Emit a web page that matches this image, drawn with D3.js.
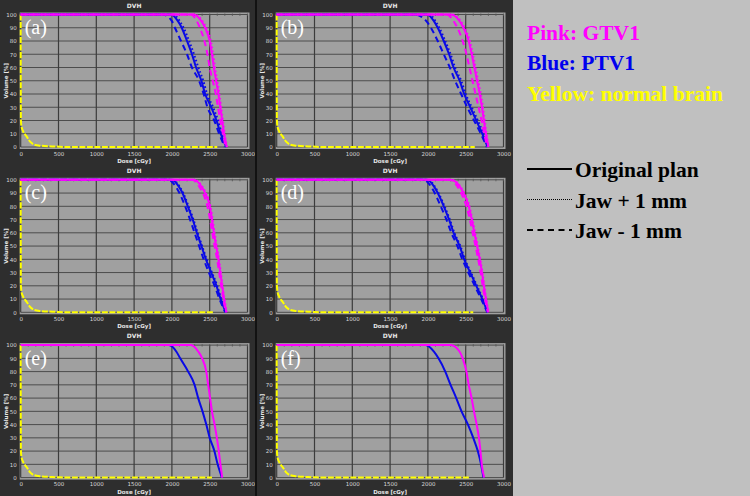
<!DOCTYPE html>
<html>
<head>
<meta charset="utf-8">
<script src="https://cdn.jsdelivr.net/npm/d3@7"></script>
<style>
  body { margin: 0; background: #c0c0c0; }
  svg { display: block; }
</style>
</head>
<body>
<svg id="chart" width="750" height="496"></svg>
<script>
// volume levels (%) shared by the target curves; each curve lists the dose (cGy) read at these levels
const volLevels = [100, 100, 95, 90, 80, 70, 60, 50, 40, 30, 20, 10, 0];

// (a)
const gtvA      = [0, 2290, 2390, 2440, 2500, 2530, 2555, 2585, 2615, 2640, 2665, 2690, 2725];
const gtvAPlus  = [0, 2300, 2405, 2455, 2515, 2545, 2570, 2600, 2628, 2652, 2675, 2698, 2730];
const gtvAMinus = [0, 2250, 2330, 2370, 2430, 2470, 2500, 2540, 2580, 2610, 2640, 2675, 2710];
const ptvA      = [0, 1990, 2080, 2130, 2200, 2265, 2320, 2390, 2440, 2520, 2590, 2645, 2720];
const ptvAPlus  = [0, 2010, 2105, 2155, 2228, 2292, 2350, 2415, 2465, 2545, 2610, 2660, 2725];
const ptvAMinus = [0, 1880, 2000, 2040, 2120, 2200, 2265, 2360, 2420, 2470, 2560, 2625, 2700];
// (b)
const gtvB      = [0, 2300, 2420, 2470, 2540, 2580, 2615, 2650, 2685, 2715, 2740, 2767, 2800];
const gtvBPlus  = [0, 2315, 2435, 2485, 2555, 2595, 2630, 2665, 2700, 2728, 2752, 2775, 2805];
const gtvBMinus = [0, 2250, 2340, 2390, 2460, 2510, 2550, 2590, 2630, 2670, 2710, 2745, 2785];
const ptvB      = [0, 1990, 2080, 2130, 2210, 2280, 2340, 2420, 2480, 2560, 2640, 2720, 2790];
const ptvBPlus  = [0, 2010, 2100, 2150, 2230, 2300, 2360, 2440, 2500, 2580, 2660, 2735, 2795];
const ptvBMinus = [0, 1820, 1980, 2040, 2130, 2210, 2290, 2360, 2440, 2520, 2610, 2700, 2780];
// (c)
const gtvC      = [0, 2290, 2390, 2440, 2500, 2530, 2555, 2585, 2615, 2640, 2665, 2690, 2720];
const gtvCPlus  = [0, 2300, 2400, 2450, 2510, 2540, 2565, 2595, 2622, 2648, 2670, 2695, 2725];
const gtvCMinus = [0, 2270, 2360, 2410, 2470, 2505, 2535, 2565, 2598, 2625, 2652, 2680, 2712];
const ptvC      = [0, 2000, 2090, 2140, 2210, 2275, 2330, 2390, 2450, 2520, 2590, 2645, 2715];
const ptvCPlus  = [0, 2010, 2100, 2150, 2220, 2285, 2340, 2400, 2460, 2530, 2600, 2652, 2720];
const ptvCMinus = [0, 1950, 2050, 2100, 2175, 2240, 2300, 2360, 2420, 2490, 2565, 2630, 2705];
// (d)
const gtvD      = [0, 2300, 2420, 2470, 2540, 2580, 2615, 2650, 2685, 2715, 2740, 2767, 2800];
const gtvDPlus  = [0, 2310, 2430, 2480, 2550, 2590, 2625, 2660, 2693, 2722, 2747, 2772, 2803];
const gtvDMinus = [0, 2280, 2390, 2440, 2510, 2555, 2592, 2630, 2665, 2698, 2725, 2755, 2792];
const ptvD      = [0, 1990, 2080, 2130, 2210, 2280, 2340, 2420, 2480, 2560, 2640, 2720, 2790];
const ptvDPlus  = [0, 2000, 2090, 2140, 2220, 2290, 2350, 2430, 2490, 2570, 2650, 2728, 2793];
const ptvDMinus = [0, 1940, 2040, 2090, 2170, 2245, 2310, 2390, 2455, 2535, 2620, 2705, 2785];
// (e)
const gtvE      = [0, 2250, 2350, 2400, 2455, 2480, 2505, 2530, 2565, 2595, 2620, 2642, 2665];
const ptvE      = [0, 1960, 2060, 2110, 2215, 2300, 2348, 2405, 2455, 2500, 2562, 2605, 2662];
// (f)
const gtvF      = [0, 2300, 2420, 2460, 2510, 2540, 2578, 2610, 2645, 2675, 2695, 2712, 2744];
const ptvF      = [0, 1970, 2080, 2140, 2230, 2300, 2375, 2445, 2530, 2600, 2660, 2703, 2735];

// normal brain
const brainVol  = [100, 20, 15.5, 11.5, 7.8, 4, 2, 1, 0.3, 0, 0];
const brainDose = [0, 3, 10, 35, 80, 125, 170, 255, 480, 600];
const brainEnd  = [2600, 2620, 2560, 2600, 2530, 2560];

const panelLabels = ["(a)", "(b)", "(c)", "(d)", "(e)", "(f)"];
const doseTicks = [0, 500, 1000, 1500, 2000, 2500, 3000];
const volTicks = [0, 10, 20, 30, 40, 50, 60, 70, 80, 90, 100];

const legendTargets = [
  {text: "Pink: GTV1", color: "#ff00ff"},
  {text: "Blue: PTV1", color: "#0000ee"},
  {text: "Yellow: normal brain", color: "#ffff00"}
];
const legendPlans = ["Original plan", "Jaw + 1 mm", "Jaw - 1 mm"];

const PINK = "#ff00ff", BLUE = "#0a0ae6", YELLOW = "#ffff00";
const styles = {solid: null, dotted: "1.6,2.4", dashed: "6,4"};

const panels = [
  {gtv: [gtvA, gtvAPlus, gtvAMinus], ptv: [ptvA, ptvAPlus, ptvAMinus]},
  {gtv: [gtvB, gtvBPlus, gtvBMinus], ptv: [ptvB, ptvBPlus, ptvBMinus]},
  {gtv: [gtvC, gtvCPlus, gtvCMinus], ptv: [ptvC, ptvCPlus, ptvCMinus]},
  {gtv: [gtvD, gtvDPlus, gtvDMinus], ptv: [ptvD, ptvDPlus, ptvDMinus]},
  {gtv: [gtvE], ptv: [ptvE]},
  {gtv: [gtvF], ptv: [ptvF]}
];
const styleOrder = ["solid", "dotted", "dashed"];

const svg = d3.select("#chart");

svg.append("rect").attr("width", 750).attr("height", 496).attr("fill", "#c0c0c0");
svg.append("rect").attr("width", 513).attr("height", 496).attr("fill", "#2e2e2e");

const colW = 256, rowH = 165.3;
const plotL = 20.7, plotR = 247.5, plotT = 14.5, plotB = 147;

function toPoints(doses, vols){
  return doses.map((d, i) => ({dose: d, vol: vols[i]}));
}

panels.forEach((p, i) => {
  const col = i % 2, row = Math.floor(i / 2);
  const g = svg.append("g").attr("transform", `translate(${col * colW}, ${row * rowH})`);

  const x = d3.scaleLinear([0, 3000], [plotL, plotR]);
  const y = d3.scaleLinear([0, 100], [plotB, plotT]);

  g.append("rect")
    .attr("x", plotL - 1).attr("y", plotT - 2)
    .attr("width", plotR - plotL + 3).attr("height", plotB - plotT + 4)
    .attr("fill", "#a0a0a0");

  g.append("g").selectAll("line").data(volTicks).enter().append("line")
    .attr("x1", plotL).attr("x2", plotR)
    .attr("y1", d => y(d)).attr("y2", d => y(d))
    .attr("stroke", "#4c4c4c").attr("stroke-width", 1);

  g.append("g").selectAll("line").data(doseTicks).enter().append("line")
    .attr("x1", d => x(d)).attr("x2", d => x(d))
    .attr("y1", plotT).attr("y2", plotB)
    .attr("stroke", "#3c3c3c").attr("stroke-width", 1.2);

  // minor ticks along top edge
  g.append("g").selectAll("line").data(d3.range(0, 3001, 100)).enter().append("line")
    .attr("x1", d => x(d)).attr("x2", d => x(d))
    .attr("y1", plotT - 1).attr("y2", plotT + 1.5)
    .attr("stroke", "#555").attr("stroke-width", 0.8);

  const xAxis = g.append("g")
    .attr("transform", `translate(0, ${plotB + 3})`)
    .call(d3.axisBottom(x).tickValues(doseTicks).tickFormat(d3.format("d")).tickSize(0).tickPadding(2));
  xAxis.select(".domain").remove();
  xAxis.selectAll("text").attr("fill", "#d8d8d8").attr("font-size", 5.5)
    .attr("font-family", "DejaVu Sans");

  const yAxis = g.append("g")
    .attr("transform", `translate(${plotL - 3}, 0)`)
    .call(d3.axisLeft(y).tickValues(volTicks).tickFormat(d3.format("d")).tickSize(0).tickPadding(1));
  yAxis.select(".domain").remove();
  yAxis.selectAll("text").attr("fill", "#d8d8d8").attr("font-size", 5.5)
    .attr("font-family", "DejaVu Sans");

  g.append("text").attr("x", (plotL + plotR) / 2).attr("y", 7.5)
    .attr("text-anchor", "middle").attr("fill", "#e8e8e8")
    .attr("font-size", 6).attr("font-weight", "bold").attr("font-family", "DejaVu Sans")
    .text("DVH");
  g.append("text").attr("x", (plotL + plotR) / 2).attr("y", 163)
    .attr("text-anchor", "middle").attr("fill", "#e8e8e8")
    .attr("font-size", 5.5).attr("font-weight", "bold").attr("font-family", "DejaVu Sans")
    .text("Dose [cGy]");
  g.append("text").attr("transform", `translate(8, ${(plotT + plotB) / 2}) rotate(-90)`)
    .attr("text-anchor", "middle").attr("fill", "#e8e8e8")
    .attr("font-size", 5.5).attr("font-weight", "bold").attr("font-family", "DejaVu Sans")
    .text("Volume [%]");

  const line = d3.line().x(d => x(d.dose)).y(d => y(d.vol)).curve(d3.curveMonotoneX);

  // normal brain
  const bd = brainDose.concat([brainEnd[i]]);
  const brain = toPoints(bd, brainVol);
  g.append("path").datum(brain)
    .attr("d", line).attr("fill", "none")
    .attr("stroke", YELLOW).attr("stroke-width", 2)
    .attr("stroke-dasharray", "6,1.5");

  p.ptv.forEach((doses, k) => {
    g.append("path").datum(toPoints(doses, volLevels))
      .attr("d", line).attr("fill", "none")
      .attr("stroke", BLUE).attr("stroke-width", 2)
      .attr("stroke-dasharray", styles[styleOrder[k]]);
  });
  p.gtv.forEach((doses, k) => {
    g.append("path").datum(toPoints(doses, volLevels))
      .attr("d", line).attr("fill", "none")
      .attr("stroke", PINK).attr("stroke-width", 2)
      .attr("stroke-dasharray", styles[styleOrder[k]]);
  });

  g.append("text").attr("x", plotL + 4).attr("y", 34)
    .attr("fill", "#ffffff").attr("font-size", 20)
    .attr("font-family", "Liberation Serif")
    .text(panelLabels[i]);
});

svg.append("line").attr("x1", 256).attr("x2", 256).attr("y1", 0).attr("y2", 496)
  .attr("stroke", "#000").attr("stroke-width", 1.2);

// legend
const lg = svg.append("g").attr("font-family", "Liberation Serif").attr("font-weight", "bold")
  .attr("font-size", 21.5);

lg.selectAll("text.target").data(legendTargets).enter().append("text")
  .attr("class", "target")
  .attr("x", 527).attr("y", (d, i) => 39.5 + i * 30.5)
  .attr("fill", d => d.color)
  .text(d => d.text);

lg.selectAll("text.plan").data(legendPlans).enter().append("text")
  .attr("class", "plan")
  .attr("x", 575).attr("y", (d, i) => 177 + i * 30.5)
  .attr("fill", "#000")
  .text(d => d);

lg.selectAll("line").data(styleOrder).enter().append("line")
  .attr("x1", 527).attr("x2", 572)
  .attr("y1", (d, i) => 169 + i * 30.5).attr("y2", (d, i) => 169 + i * 30.5)
  .attr("stroke", "#000")
  .attr("stroke-width", (d) => d === "dotted" ? 1 : 1.8)
  .attr("stroke-dasharray", d => d === "solid" ? null : d === "dotted" ? "1,1" : "6,4.5");
</script>
</body>
</html>
